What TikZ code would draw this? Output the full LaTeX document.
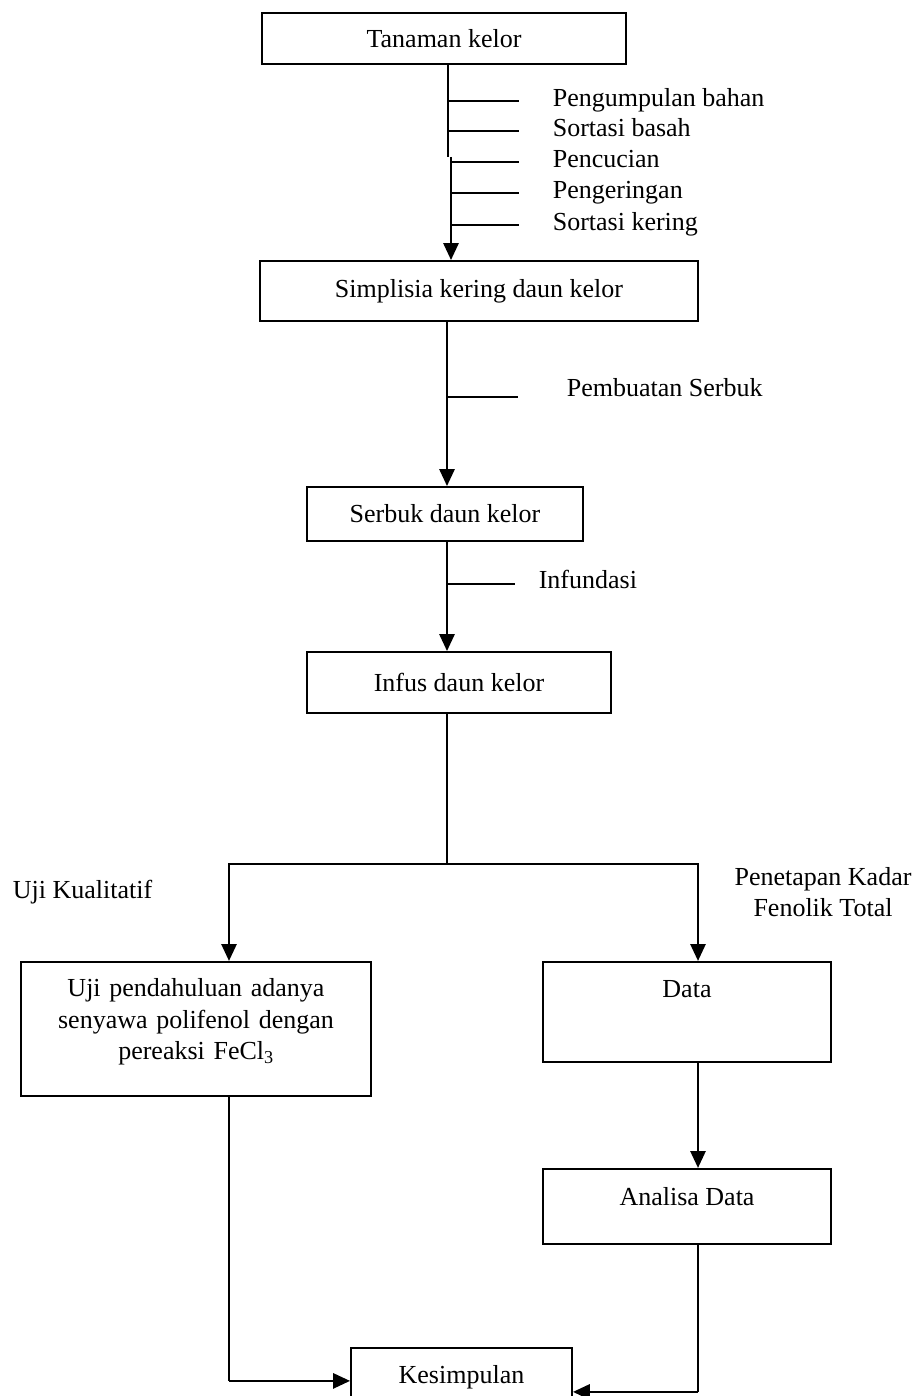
\documentclass[tikz,border=0pt]{standalone}
\usepackage{fontspec}
\setmainfont{Liberation Serif}
\usetikzlibrary{arrows.meta}

\begin{document}
\begin{tikzpicture}[x=1pt,y=-1pt,line width=1.6pt,
    font=\fontsize{26}{31.5}\selectfont,
    box/.style={draw,rectangle,inner sep=0pt,line width=1.8pt},
    lbl/.style={anchor=west,inner sep=0pt,text height=18pt,text depth=6pt},
    flow/.style={-{Triangle[width=15pt,length=17pt]},line width=2.8pt},
    tick/.style={line width=1.6pt}]
  \useasboundingbox (0,0) rectangle (918,1396);

  % boxes
  \node[box,minimum width=364pt,minimum height=51pt] (tanaman)   at (444,38.5)  {Tanaman kelor};
  \node[box,minimum width=438pt,minimum height=60pt] (simplisia) at (479,291)   {Simplisia kering daun kelor};
  \node[box,minimum width=276pt,minimum height=54pt] (serbuk)    at (445,514)   {Serbuk daun kelor};
  \node[box,minimum width=304pt,minimum height=61pt] (infus)     at (459,682.5) {Infus daun kelor};
  \node[box,anchor=north,text width=350pt,align=center,text height=35pt,text depth=99pt]
        (uji) at (196,961) {Uji pendahuluan adanya\\senyawa polifenol dengan\\pereaksi FeCl\textsubscript{3}};
  \node[box,anchor=north,minimum width=288pt,text height=36pt,text depth=64pt] (data)     at (687,961)  {Data};
  \node[box,anchor=north,minimum width=288pt,text height=37pt,text depth=38pt] (analisa)  at (687,1168) {Analisa Data};
  \node[box,anchor=north,minimum width=221pt,text height=36pt,text depth=30pt] (simpulan) at (461.5,1347) {Kesimpulan};

  % side texts
  \node[lbl] (kumpul)  at (552,101) {Pengumpulan bahan};
  \node[lbl] (basah)   at (552,131) {Sortasi basah};
  \node[lbl] (cuci)    at (552,162) {Pencucian};
  \node[lbl] (kering)  at (552,193) {Pengeringan};
  \node[lbl] (skering) at (552,225) {Sortasi kering};
  \node[lbl] (buat)    at (566,390) {Pembuatan Serbuk};
  \node[lbl] (infund)  at (538,582) {Infundasi};
  \node[lbl] (kuali)   at (12,892)  {Uji Kualitatif};
  \node[align=center,inner sep=0pt] (kadar) at (823,892) {Penetapan Kadar\\Fenolik Total};

  % trunk points
  \coordinate (jogA)  at (448,157);
  \coordinate (jogB)  at (451,157);
  \coordinate (cabB)  at (447,397);
  \coordinate (cabC)  at (447,584);
  \coordinate (split) at (447,864);
  \coordinate (kiri)  at (229,864);
  \coordinate (kanan) at (698,864);

  % first trunk with its steps
  \draw[tick] (tanaman.south -| jogA) -- (jogA);
  \draw[flow] (jogB) -- (jogB |- simplisia.north);
  \draw[tick] (kumpul.west -| jogA)  -- ([xshift=-33pt]kumpul.west);
  \draw[tick] (basah.west -| jogA)   -- ([xshift=-33pt]basah.west);
  \draw[tick] (cuci.west -| jogB)    -- ([xshift=-33pt]cuci.west);
  \draw[tick] (kering.west -| jogB)  -- ([xshift=-33pt]kering.west);
  \draw[tick] (skering.west -| jogB) -- ([xshift=-33pt]skering.west);

  \draw[flow] (cabB |- simplisia.south) -- (cabB |- serbuk.north);
  \draw[tick] (cabB) -- ++(71,0);
  \draw[flow] (cabC |- serbuk.south) -- (cabC |- infus.north);
  \draw[tick] (cabC) -- ++(68,0);

  % split into two ways
  \draw[tick] (split |- infus.south) -- (split);
  \draw[flow] (split) -| (kiri |- uji.north);
  \draw[flow] (split) -| (kanan |- data.north);
  \draw[flow] (kanan |- data.south) -- (kanan |- analisa.north);

  % to the conclusion
  \coordinate (kiriB)  at (kiri |- simpulan.west);
  \coordinate (kananB) at ([yshift=-11pt]simpulan.east -| kanan);
  \draw[tick] (kiri |- uji.south) -- (kiriB);
  \draw[flow] (kiriB) -- (simpulan.west);
  \draw[tick] (kanan |- analisa.south) -- (kananB);
  \draw[flow] (kananB) -- ([yshift=-11pt]simpulan.east);
\end{tikzpicture}
\end{document}
